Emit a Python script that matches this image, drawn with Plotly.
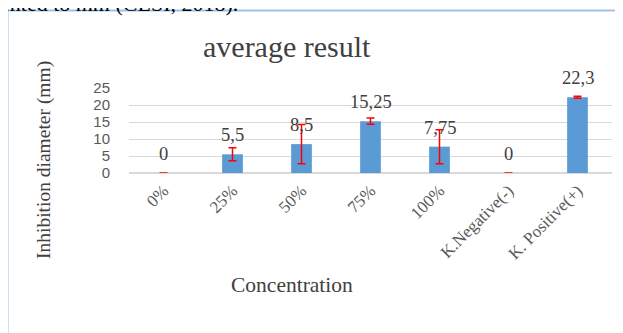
import plotly.graph_objects as go

categories = ["0%", "25%", "50%", "75%", "100%", "K.Negative(-)", "K. Positive(+)"]
values = [0, 5.5, 8.5, 15.25, 7.75, 0, 22.3]
errors = [0, 1.9, 5.8, 0.9, 5.0, 0, 0.3]
labels = ["0", "5,5", "8,5", "15,25", "7,75", "0", "22,3"]

W, H = 623, 333
OFF = 8  # page body margin
L, R, T, B = 121, 19, 80, 168
pw, ph = W - L - R, H - T - B

def px(x):
    # screen x -> paper x
    return (x - OFF - L) / pw

def py(y):
    # screen y -> paper y
    return (H - B - (y - OFF)) / ph

serif = "Liberation Serif, Times New Roman, serif"
sans = "Liberation Sans Narrow, Liberation Sans, Arial, sans-serif"

fig = go.Figure()
fig.add_trace(go.Bar(
    x=categories, y=values, width=0.3,
    marker=dict(color="#5B9BD5", line=dict(width=0)),
    error_y=dict(type="data", array=errors, visible=True,
                 color="#FF0000", thickness=1.5, width=4),
    showlegend=False,
))

annotations = []
for c, v, t in zip(categories, values, labels):
    annotations.append(dict(x=c, y=v, xref="x", yref="y", text=t, showarrow=False,
                            yanchor="middle", yshift=19,
                            font=dict(family=serif, size=18.5, color="#404040")))

annotations += [
    dict(x=px(287), y=py(46), xref="paper", yref="paper", text="average result", showarrow=False,
         xanchor="center", yanchor="middle", font=dict(family=serif, size=30, color="#404040")),
    dict(x=px(44), y=py(160), xref="paper", yref="paper", text="Inhibition diameter (mm)",
         xanchor="center", yanchor="middle",
         textangle=-90, showarrow=False, font=dict(family=serif, size=19.5, color="#404040")),
    dict(x=px(292), y=py(285), xref="paper", yref="paper", text="Concentration",
         xanchor="center", yanchor="middle",
         showarrow=False, font=dict(family=serif, size=21.5, color="#404040")),
    dict(x=px(-2), y=py(3), xref="paper", yref="paper", text="ented to mm (CLSI, 2018).",
         xanchor="left", yanchor="middle", showarrow=False,
         font=dict(family=serif, size=22, color="#000000")),
]

fig.update_layout(
    width=W, height=H,
    margin=dict(l=L, r=R, t=T, b=B, pad=0, autoexpand=False),
    paper_bgcolor="white", plot_bgcolor="white",
    annotations=annotations,
    shapes=[
        dict(type="line", xref="paper", yref="paper", x0=px(7.5), x1=px(7.5), y0=py(10), y1=py(345),
             line=dict(color="#9DC3E6", width=2)),
        dict(type="line", xref="paper", yref="paper", x0=px(7.5), x1=px(640), y0=py(10.5), y1=py(10.5),
             line=dict(color="#9DC3E6", width=2)),
    ],
    xaxis=dict(
        tickangle=-45, showgrid=False, showline=True, linecolor="#D9D9D9", linewidth=1,
        ticks="", tickfont=dict(family=serif, size=17, color="#595959"),
        range=[-0.5, 6.5], automargin=False,
    ),
    yaxis=dict(
        range=[0, 25], tickvals=[0, 5, 10, 15, 20, 25], showgrid=True, gridcolor="#D9D9D9",
        gridwidth=1, zeroline=True, zerolinecolor="#D9D9D9", showline=False, ticks="",
        ticklabelstandoff=18, automargin=False,
        tickfont=dict(family=sans, size=15, color="#595959"),
    ),
)

fig.write_html("out.html")
